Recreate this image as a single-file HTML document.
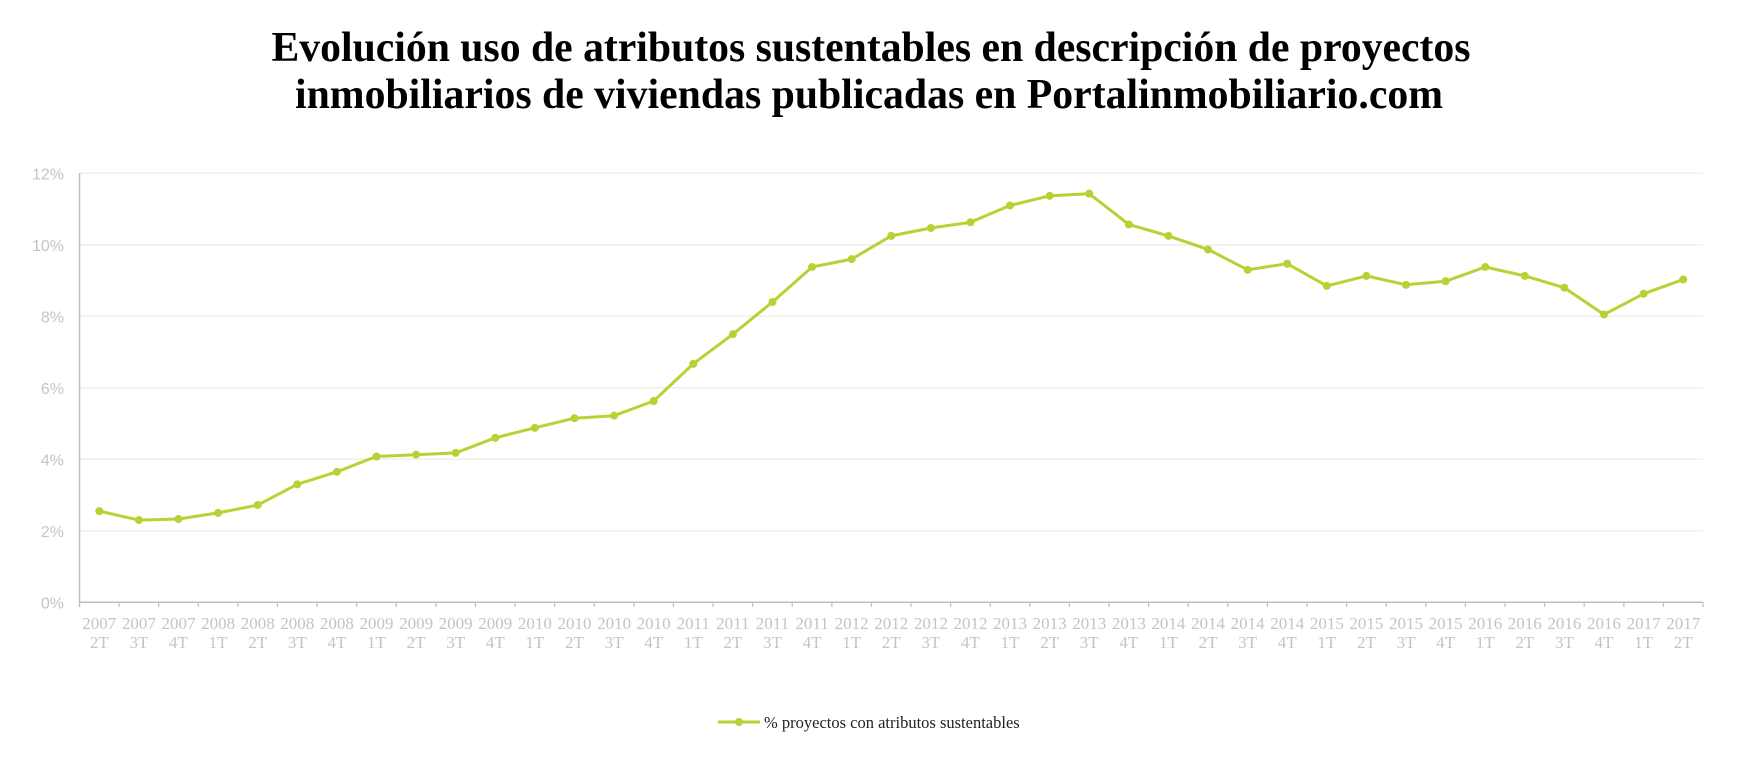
<!DOCTYPE html>
<html><head><meta charset="utf-8"><style>html,body{margin:0;padding:0;background:#fff}</style></head>
<body>
<svg width="1741" height="756" xmlns="http://www.w3.org/2000/svg">
<rect width="1741" height="756" fill="#fff"/>
<g font-family="Liberation Serif, serif" font-weight="bold" font-size="42" fill="#000" text-anchor="middle">
<text x="871" y="61" textLength="1199" lengthAdjust="spacingAndGlyphs">Evolución uso de atributos sustentables en descripción de proyectos</text>
<text x="869" y="108" textLength="1148" lengthAdjust="spacingAndGlyphs">inmobiliarios de viviendas publicadas en Portalinmobiliario.com</text>
</g>
<g id="grid" stroke="#efefef" stroke-width="1.5"></g>
<g id="yl" font-family="Liberation Sans, sans-serif" font-size="16" fill="#c4c4c4" text-anchor="end"></g>
<line x1="79.5" y1="173" x2="79.5" y2="607" stroke="#bfbfbf" stroke-width="1.5"/>
<line x1="79.5" y1="602.3" x2="1703" y2="602.3" stroke="#bfbfbf" stroke-width="1.5"/>
<g id="ticks" stroke="#bfbfbf" stroke-width="1.2"></g>
<g id="xl" font-family="Liberation Serif, serif" font-size="17" fill="#c4c4c4" text-anchor="middle"></g>
<polyline id="ln" fill="none" stroke="#b5d334" stroke-width="3" stroke-linejoin="round"/>
<g id="pts" fill="#b5d334"></g>
<line x1="718" y1="722" x2="760" y2="722" stroke="#b5d334" stroke-width="3"/>
<circle cx="739" cy="722" r="4" fill="#b5d334"/>
<text x="764" y="728" font-family="Liberation Serif, serif" font-size="16.5" fill="#222">% proyectos con atributos sustentables</text>
</svg>
<script>
const v=[2.55,2.3,2.33,2.5,2.72,3.3,3.65,4.08,4.13,4.18,4.6,4.88,5.15,5.22,5.63,6.67,7.5,8.4,9.38,9.6,10.25,10.47,10.63,11.1,11.37,11.43,10.57,10.25,9.87,9.3,9.47,8.85,9.13,8.88,8.98,9.38,9.13,8.8,8.05,8.63,9.03];
const ns="http://www.w3.org/2000/svg";
const x0=79.5,w=1623.5,n=41,dx=w/n,y0=602.3,py=35.75;
function el(p,t,a,txt){const e=document.createElementNS(ns,t);for(const k in a)e.setAttribute(k,a[k]);if(txt!=null)e.textContent=txt;document.getElementById(p).appendChild(e);}
for(let i=0;i<=6;i++){const y=y0-i*2*py;if(i>0)el('grid','line',{x1:x0,x2:1703,y1:y,y2:y});el('yl','text',{x:64,y:y+6},(i*2)+'%');}
for(let i=0;i<=n;i++){const x=x0+i*dx;el('ticks','line',{x1:x,x2:x,y1:602,y2:607});}
let pts=[];let q=['2T','3T','4T','1T'];
for(let i=0;i<n;i++){const x=x0+(i+0.5)*dx,y=y0-v[i]*py;pts.push(x.toFixed(1)+','+y.toFixed(1));el('pts','circle',{cx:x,cy:y,r:4});
const yr=2007+Math.floor((i+1)/4);const qt=q[i%4];
el('xl','text',{x:x,y:629},String(yr));el('xl','text',{x:x,y:648},qt);}
document.getElementById('ln').setAttribute('points',pts.join(' '));
</script>
</body></html>
